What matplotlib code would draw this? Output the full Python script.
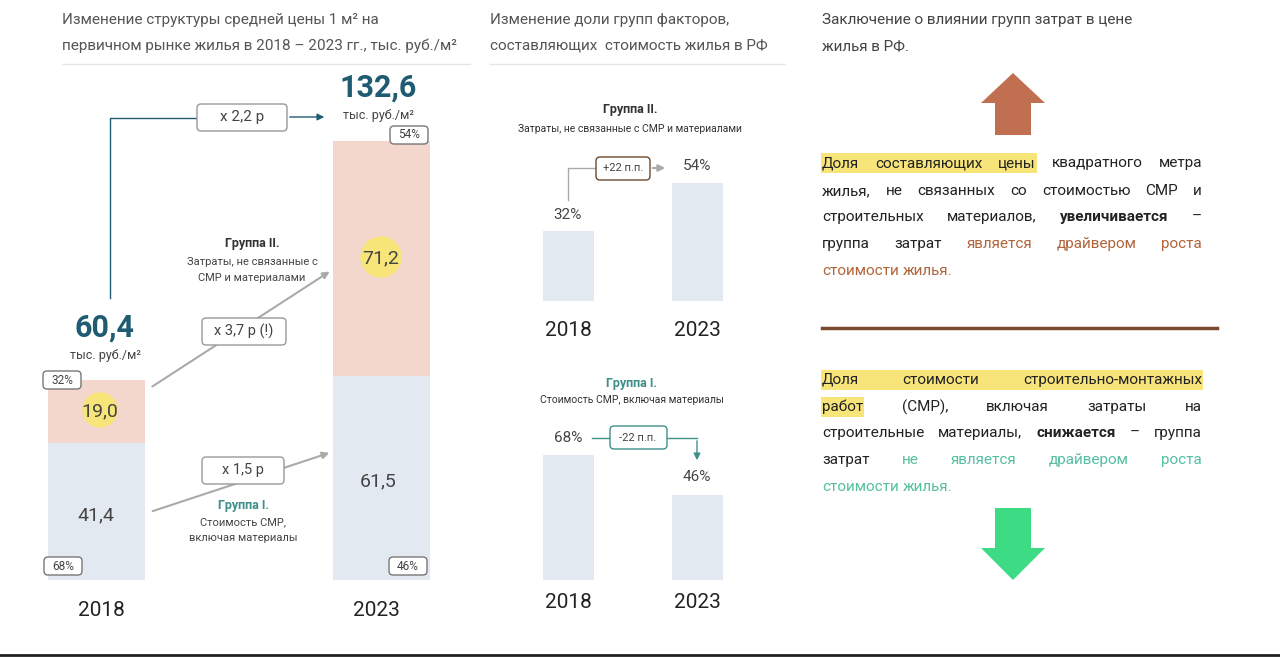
import matplotlib
matplotlib.use("Agg")
import matplotlib.pyplot as plt
from matplotlib.patches import FancyBboxPatch, Circle, FancyArrow

plt.rcParams["font.family"] = "Roboto"

years = ["2018", "2023"]
group1 = [41.4, 61.5]      # СМР incl. materials, тыс. руб./м2
group2 = [19.0, 71.2]      # other costs
totals = [60.4, 132.6]
share_g2 = [32, 54]
share_g1 = [68, 46]

PINK = "#f3d6cc"; BLUE = "#e3e9f0"; TEAL = "#1f5c72"; GTEAL = "#3e8f8a"
BROWN = "#b0653a"; GREEN = "#55bfa0"; YEL = "#f7e57a"; GRAY = "#444444"

W, H = 1280, 657
fig = plt.figure(figsize=(12.8, 6.57), dpi=100)

def ax_px(x0, y0, x1, y1):
    return fig.add_axes([x0 / W, 1 - y1 / H, (x1 - x0) / W, (y1 - y0) / H])

axL = ax_px(30, 100, 470, 580)
xs = [96, 381]
axL.bar(xs, group1, width=97, color=BLUE)
axL.bar(xs, group2, bottom=group1, width=97, color=PINK)
axL.set_xlim(30, 470); axL.set_ylim(0, 145); axL.axis("off")

axM1 = ax_px(520, 100, 745, 301)
axM1.bar([568, 697], share_g2, width=51, color=BLUE)
axM1.set_xlim(520, 745); axM1.set_ylim(0, 91.8); axM1.axis("off")
axM2 = ax_px(520, 380, 745, 580)
axM2.bar([568, 697], share_g1, width=51, color=BLUE)
axM2.set_xlim(520, 745); axM2.set_ylim(0, 108.8); axM2.axis("off")

ov = fig.add_axes([0, 0, 1, 1], zorder=5)
ov.set_xlim(0, W); ov.set_ylim(H, 0); ov.axis("off"); ov.patch.set_alpha(0)

def t(x, y, s, size=11, color=GRAY, ha="center", weight="normal", **kw):
    ov.text(x, y, s, fontsize=size, color=color, ha=ha, va="center", fontweight=weight, zorder=10, **kw)

def box(x0, y0, x1, y1, ec="#999999", lw=1):
    ov.add_patch(FancyBboxPatch((x0, y0), x1 - x0, y1 - y0, boxstyle="round,pad=0,rounding_size=4",
                                fc="white", ec=ec, lw=lw, zorder=6))

def arrow(x0, y0, x1, y1, c="#aaaaaa", lw=1.5):
    ov.annotate("", xy=(x1, y1), xytext=(x0, y0),
                arrowprops=dict(arrowstyle="-|>", color=c, lw=lw, mutation_scale=10))

t(62, 20, "Изменение структуры средней цены 1 м² на", 11, "#555555", "left")
t(62, 46, "первичном рынке жилья в 2018 – 2023 гг., тыс. руб./м²", 11, "#555555", "left")
t(490, 20, "Изменение доли групп факторов,", 11, "#555555", "left")
t(490, 46, "составляющих  стоимость жилья в РФ", 11, "#555555", "left")
t(822, 20, "Заключение о влиянии групп затрат в цене", 11, "#444444", "left")
t(822, 46, "жилья в РФ.", 11, "#444444", "left")
for a, b in [(62, 470), (490, 785)]:
    ov.plot([a, b], [64, 64], color="#e6e6e6", lw=1)

ov.plot([110, 110, 197], [298, 118, 118], color=TEAL, lw=1)
box(197, 104, 287, 131); t(242, 117, "x 2,2 р", 11)
arrow(287, 117, 327, 117, c=TEAL, lw=1)
t(105, 328, "60,4", 22, TEAL, weight="bold")
t(105, 356, "тыс. руб./м²", 9)
t(378, 88, "132,6", 22, TEAL, weight="bold")
t(378, 116, "тыс. руб./м²", 9)
for (x, y, s) in [(62, 380, "32%"), (63, 566, "68%"), (409, 135, "54%"), (408, 566, "46%")]:
    box(x - 19, y - 9, x + 19, y + 9, ec="#777777"); t(x, y, s, 8.5)
ov.add_patch(Circle((100, 410), 17, color=YEL, zorder=4)); t(100, 411, "19,0", 14)
ov.add_patch(Circle((381, 257), 20, color=YEL, zorder=4)); t(381, 258, "71,2", 14)
t(96, 515, "41,4", 14); t(378, 481, "61,5", 14)
t(252, 244, "Группа II.", 9, "#333333", weight="bold")
t(252, 262, "Затраты, не связанные с", 8)
t(252, 278, "СМР и материалами", 8)
arrow(150, 388, 332, 270); arrow(150, 512, 332, 452)
box(202, 318, 286, 345); t(244, 331, "x 3,7 р (!)", 10.5)
box(202, 457, 284, 484); t(243, 470, "x 1,5 р", 10.5)
t(243, 505, "Группа I.", 9, GTEAL, weight="bold")
t(243, 522, "Стоимость СМР,", 8)
t(243, 538, "включая материалы", 8)
t(101, 610, years[0], 15, "#222222"); t(376, 610, years[1], 15, "#222222")

t(630, 110, "Группа II.", 9, "#333333", weight="bold")
t(630, 129, "Затраты, не связанные с СМР и материалами", 7.5, "#333333")
t(568, 215, f"{share_g2[0]}%", 11); t(697, 166, f"{share_g2[1]}%", 11)
ov.plot([568, 568, 596], [200, 168, 168], color="#aaaaaa", lw=1)
box(596, 157, 650, 180, ec="#6b4a2f"); t(623, 168, "+22 п.п.", 8)
arrow(650, 168, 668, 168)
t(568, 330, years[0], 15, "#222222"); t(697, 330, years[1], 15, "#222222")
t(632, 383, "Группа I.", 9, GTEAL, weight="bold")
t(632, 400, "Стоимость СМР, включая материалы", 7.5, "#333333")
t(568, 438, f"{share_g1[0]}%", 11); t(697, 477, f"{share_g1[1]}%", 11)
ov.plot([592, 610], [438, 438], color=GTEAL, lw=1)
box(610, 426, 667, 449, ec=GTEAL); t(638, 438, "-22 п.п.", 8)
ov.plot([667, 697], [438, 438], color=GTEAL, lw=1)
arrow(697, 438, 697, 463, c=GTEAL, lw=1)
t(568, 603, years[0], 15, "#222222"); t(697, 603, years[1], 15, "#222222")

ov.add_patch(FancyArrow(1013, 135, 0, -62, width=36, head_width=64, head_length=30,
                        length_includes_head=True, color="#c07050", lw=0))
ov.add_patch(FancyArrow(1013, 508, 0, 72, width=36, head_width=64, head_length=32,
                        length_includes_head=True, color="#3ddc84", lw=0))
ov.plot([822, 1217], [328, 328], color="#7a4a30", lw=2.5)

fig.canvas.draw()
rend = fig.canvas.get_renderer()

def line(y, words, justify=True, x0=822, x1=1202):
    objs = []
    for w, st in words:
        o = ov.text(0, y, w, fontsize=11, va="center", ha="left",
                    color=st.get("c", "#222222"), fontweight="bold" if st.get("b") else "normal", zorder=8)
        objs.append((o, st))
    widths = [o.get_window_extent(rend).width for o, _ in objs]
    space = rend.get_text_width_height_descent(" ", objs[0][0].get_fontproperties(), False)[0]
    gap = (x1 - x0 - sum(widths)) / (len(objs) - 1) if justify and len(objs) > 1 else space * 1.2
    x = x0
    for (o, st), wd in zip(objs, widths):
        o.set_x(x)
        if st.get("h"):
            ext = gap if st.get("hx") else 0
            ov.add_patch(plt.Rectangle((x - 1, y - 10), wd + 2 + ext, 20, color=YEL, zorder=7, lw=0))
        x += wd + gap

def W_(s, **st):
    return [(w, st) for w in s.split()]

B = dict(c=BROWN); G = dict(c=GREEN)
line(163, [("Доля", dict(h=1, hx=1)), ("составляющих", dict(h=1, hx=1)), ("цены", dict(h=1))] + W_("квадратного метра"))
line(191, W_("жилья, не связанных со стоимостью СМР и"))
line(217, W_("строительных материалов,") + [("увеличивается", dict(b=1)), ("–", {})])
line(244, W_("группа затрат") + W_("является драйвером роста", **B))
line(271, W_("стоимости жилья.", **B), justify=False)
line(380, [("Доля", dict(h=1, hx=1)), ("стоимости", dict(h=1, hx=1)), ("строительно-монтажных", dict(h=1))])
line(407, [("работ", dict(h=1))] + W_("(СМР), включая затраты на"))
line(433, W_("строительные материалы,") + [("снижается", dict(b=1))] + W_("– группа"))
line(460, W_("затрат") + W_("не является драйвером роста", **G))
line(487, W_("стоимости жилья.", **G), justify=False)

ov.plot([0, W], [655, 655], color="#222222", lw=2)
fig.savefig("out.png", dpi=100, facecolor="white")
